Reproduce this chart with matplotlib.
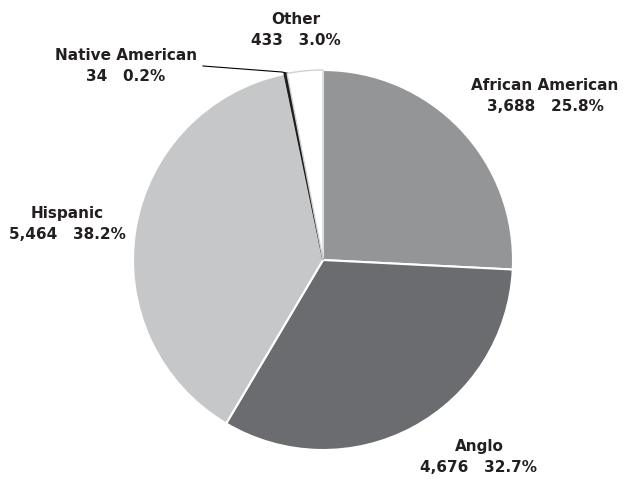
import matplotlib.pyplot as plt

labels = ['African American', 'Anglo', 'Hispanic', 'Native American', 'Other']
counts = [3688, 4676, 5464, 34, 433]
pcts = ['25.8%', '32.7%', '38.2%', '0.2%', '3.0%']
colors = ['#949597', '#6b6c6f', '#c6c7c9', '#1e1e1e', '#ffffff']

plt.rcParams['font.family'] = ['DejaVu Sans']

fig = plt.figure(figsize=(6.42, 4.83), dpi=100)
ax = fig.add_axes([0, 0, 1, 1])

wedges, _ = ax.pie(counts, colors=colors, startangle=90, counterclock=False,
                   center=(323, 223), radius=190,
                   wedgeprops=dict(edgecolor='white', linewidth=1.5))
wedges[3].set_edgecolor('#1e1e1e')
wedges[3].set_linewidth(1.2)
wedges[4].set_edgecolor('#d0d0d0')
wedges[4].set_linewidth(1.0)

ax.set_xlim(0, 642)
ax.set_ylim(0, 483)
ax.set_aspect('equal')
ax.axis('off')

# label placement in pixel coordinates (x, y from top)
pos = [(545, 96), (479, 457), (67, 224), (126, 66), (296, 30)]
for i, (x, y) in enumerate(pos):
    txt = f'{labels[i]}\n{counts[i]:,}   {pcts[i]}'
    ax.text(x, 483 - y, txt, ha='center', va='center', fontsize=11,
            fontweight='bold', color='#231f20', linespacing=1.5)

# leader line for Native American
ax.plot([203, 282, 286], [483 - 66, 483 - 72, 483 - 73], color='black', lw=0.8)

fig.savefig('out.png', dpi=100)
